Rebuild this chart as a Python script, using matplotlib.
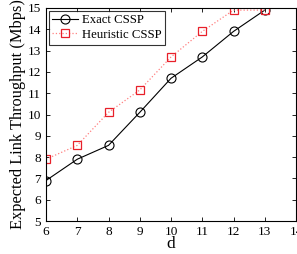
import numpy as np
import matplotlib.pyplot as plt

plt.rcParams['font.family'] = ['Liberation Serif', 'DejaVu Serif']

# data
d = [6, 7, 8, 9, 10, 11, 12, 13]
exact = [6.9, 7.9, 8.55, 10.1, 11.7, 12.7, 13.9, 14.9]
heuristic = [7.9, 8.55, 10.1, 11.15, 12.7, 13.9, 14.9, 14.9]

fig = plt.figure(figsize=(2.97, 2.54), dpi=100)
ax = fig.add_axes([46 / 297, 33 / 254, 250 / 297, 213 / 254])

ax.plot(d, exact, '-', color='black', lw=0.8, marker='o', ms=6.5,
        mfc='none', mec='black', mew=0.8, label='Exact CSSP')
ax.plot(d, heuristic, ':', color='#ff8080', lw=0.9, marker='s', ms=5.5,
        mfc='none', mec='#e8202a', mew=0.9, label='Heuristic CSSP')

ax.set_xlim(6, 14)
ax.set_ylim(5, 15)
ax.set_xticks(range(6, 15))
ax.set_yticks(range(5, 16))
ax.tick_params(direction='in', top=True, right=True, labelsize=9.5, length=3, width=0.6)
for s in ax.spines.values():
    s.set_linewidth(0.8)

ax.set_xlabel('d', fontsize=12.5, labelpad=-1)
ax.set_ylabel('Expected Link Throughput (Mbps)', fontsize=11.8, labelpad=1)

leg = ax.legend(loc='upper left', fontsize=9.2, fancybox=False, edgecolor='black',
                borderaxespad=0.2, handlelength=2.0, borderpad=0.3, labelspacing=0.2,
                handletextpad=0.3)
leg.get_frame().set_linewidth(0.8)

fig.savefig('out.png', dpi=100)
